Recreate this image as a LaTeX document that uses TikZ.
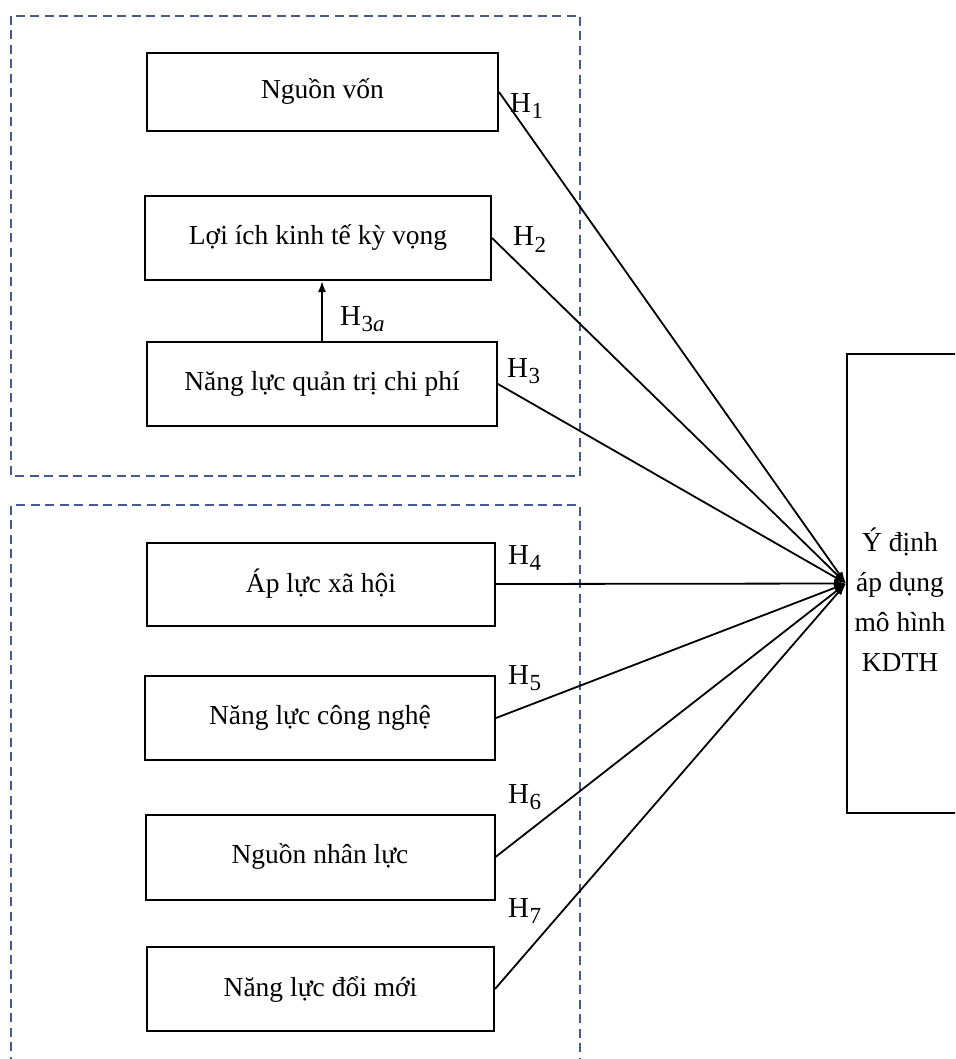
\documentclass[tikz,border=0pt]{standalone}
\usepackage{fontspec}
\setmainfont{Liberation Serif}
\usetikzlibrary{arrows.meta}
\definecolor{dashblue}{RGB}{68,90,145}
% hypothesis label: H with a lowered index
\newcommand\hyplabel[1]{H\kern0.4pt\raisebox{-6pt}{\fontsize{23}{23}\selectfont #1}}
\begin{document}
\begin{tikzpicture}[x=1pt,y=-1pt,
  box/.style={draw, line width=2pt, inner sep=0pt, align=center,
    font=\fontsize{27.5}{33}\selectfont},
  group/.style={draw=dashblue, line width=1.8pt, dash pattern=on 9pt off 5.5pt},
  link/.style={line width=1.8pt, -{Latex[length=12pt,width=8pt]}},
  uplink/.style={line width=1.8pt, -{Latex[length=11pt,width=8pt]}},
  hyp/.style={anchor=base west, inner sep=0pt, font=\fontsize{29}{29}\selectfont}]
\useasboundingbox (0,0) rectangle (955,1059);
\clip (0,0) rectangle (955,1059);

% dashed groups of factors
\draw[group] (11,16) rectangle (580,476);
\draw[group] (11,1080) -- (11,505) -- (580,505) -- (580,1080);

% factor boxes
\node[box, minimum width=351pt, minimum height=78pt] (n1) at (322.5,92) {Nguồn vốn};
\node[box, minimum width=346pt, minimum height=84pt] (n2) at (318,238) {Lợi ích kinh tế kỳ vọng};
\node[box, minimum width=350pt, minimum height=84pt] (n3) at (322,384) {Năng lực quản trị chi phí};
\node[box, minimum width=348pt, minimum height=83pt] (n4) at (321,584) {Áp lực xã hội};
\node[box, minimum width=350pt, minimum height=84pt] (n5) at (320,718) {Năng lực công nghệ};
\node[box, minimum width=349pt, minimum height=85pt] (n6) at (320,857) {Nguồn nhân lực};
\node[box, minimum width=347pt, minimum height=84pt] (n7) at (320.5,989) {Năng lực đổi mới};

% outcome box (runs past the right edge)
\node[draw, line width=2pt, minimum width=140pt, minimum height=459pt,
  anchor=north west, inner sep=0pt] (kd) at (846,353) {};
\node[align=center, font=\fontsize{27.5}{40}\selectfont] (kdtext) at (900,600)
  {Ý định\\áp dụng\\mô hình\\KDTH};

% hypotheses paths
\draw[link] (n1.east) -- (kd.west);
\draw[link] (n2.east) -- (kd.west);
\draw[link] (n3.east) -- (kd.west);
\draw[link] (n4.east) -- (kd.west);
\draw[link] (n5.east) -- (kd.west);
\draw[link] (n6.east) -- (kd.west);
\draw[link] (n7.east) -- (kd.west);
\draw[uplink] (n3.north) -- (n3.north |- n2.south);

% hypothesis labels
\node[hyp] (h1) at (510,113) {\hyplabel{1}};
\node[hyp] (h2) at (513,246) {\hyplabel{2}};
\node[hyp] (h3) at (507,377) {\hyplabel{3}};
\node[hyp] (h3a) at (340,325) {\hyplabel{3\textit{a}}};
\node[hyp] (h4) at (508,564) {\hyplabel{4}};
\node[hyp] (h5) at (508,684) {\hyplabel{5}};
\node[hyp] (h6) at (508,803) {\hyplabel{6}};
\node[hyp] (h7) at (508,917) {\hyplabel{7}};
\end{tikzpicture}
\end{document}
